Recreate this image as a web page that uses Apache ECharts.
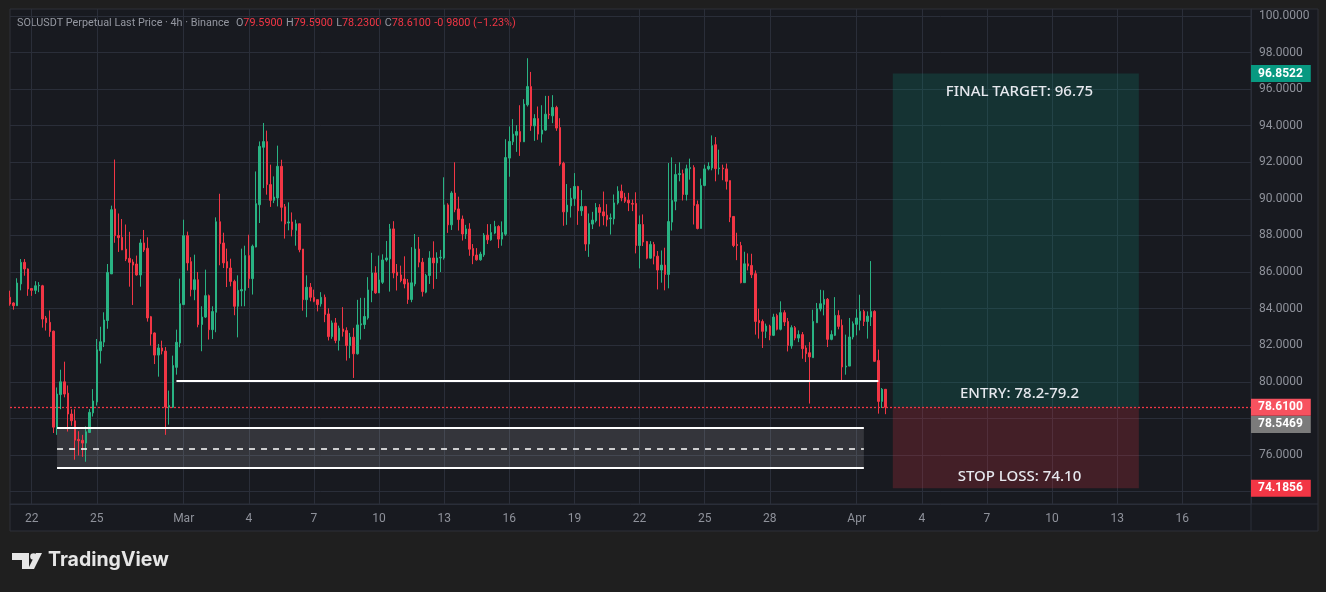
<!DOCTYPE html>
<html>
<head>
<meta charset="utf-8">
<title>SOLUSDT Perpetual 4h</title>
<script src="https://cdn.jsdelivr.net/npm/echarts@6/dist/echarts.min.js"></script>
<style>
  html, body { margin: 0; padding: 0; background: #1f1f1f; }
  #chart { width: 1326px; height: 592px; }
</style>
</head>
<body>
<div id="chart"></div>
<script>
// 4h candles, [open, high, low, close], first one is Feb 21 00:00
var ohlc = [
  [84.62,84.98,84.16,84.25],[84.31,84.35,83.94,84.16],[84.16,85.66,84.16,85.40],[85.35,86.71,85.00,86.53],[86.53,86.71,85.80,86.17],[86.17,86.20,84.70,85.07],
  [85.10,85.10,84.70,85.00],[85.00,85.50,84.80,85.25],[85.25,85.45,84.90,85.28],[85.25,85.30,82.96,83.43],[83.49,83.60,82.80,83.23],[83.25,83.90,82.46,82.74],
  [82.77,82.80,77.20,77.52],[77.50,79.69,77.10,79.33],[79.30,80.66,78.50,80.00],[80.00,81.10,79.15,79.33],[79.38,79.80,77.28,78.24],[78.24,78.50,77.60,77.87],
  [77.87,78.50,75.74,76.81],[76.85,77.30,75.97,76.78],[76.80,77.10,75.90,76.65],[76.65,77.56,75.63,77.27],[77.23,78.51,77.20,78.33],[78.30,79.60,78.10,78.95],
  [78.90,82.34,78.70,81.75],[81.70,83.01,81.00,82.19],[82.17,83.80,81.90,83.38],[83.35,86.44,82.90,85.98],[85.90,89.63,85.90,89.41],[89.45,92.15,87.60,87.99],
  [88.00,89.20,87.10,87.88],[87.90,88.90,87.20,87.21],[87.25,88.60,86.60,86.71],[86.75,88.20,85.20,86.53],[86.55,86.70,84.20,86.38],[86.44,86.90,85.80,85.84],
  [85.84,87.80,85.20,87.59],[87.59,88.30,87.10,87.21],[87.30,87.90,83.29,83.49],[83.56,83.60,81.98,82.61],[82.67,82.70,80.97,81.46],[81.46,82.07,80.28,81.85],
  [81.85,82.25,81.50,81.68],[81.68,81.90,77.10,78.62],[78.61,79.52,77.66,78.70],[78.61,81.43,78.57,80.89],[80.79,82.85,80.39,82.16],[82.12,85.64,81.89,84.27],
  // Mar 1
  [84.22,88.86,84.22,87.99],[87.99,88.21,86.08,86.50],[86.57,86.81,84.67,85.04],[85.04,86.95,84.46,85.58],[85.58,86.00,82.98,83.13],[83.13,84.13,81.67,83.54],
  [83.54,86.13,83.49,84.71],[84.71,84.77,82.31,82.85],[82.85,84.13,82.34,83.84],[83.80,88.99,82.71,88.75],[88.75,90.28,86.37,87.55],[87.59,88.15,86.22,86.50],
  [86.57,87.28,85.18,86.22],[86.22,86.73,85.22,85.49],[85.49,85.58,83.64,84.13],[84.13,85.82,82.43,85.00],[84.97,87.28,84.13,85.04],[85.00,87.44,84.13,86.90],
  [86.90,88.04,85.13,85.64],[85.64,87.50,84.77,87.41],[87.37,91.50,87.35,89.74],[89.68,93.14,88.68,92.87],[92.82,94.15,90.59,93.13],[93.13,93.73,90.23,90.78],
  [90.78,91.87,89.56,89.92],[89.92,91.23,89.77,90.10],[90.05,92.91,89.59,91.78],[91.78,92.14,88.77,89.54],[89.57,89.72,87.83,88.63],[88.68,89.81,88.28,88.74],
  [88.74,89.26,87.95,88.32],[88.28,88.86,87.44,88.64],[88.64,88.64,87.08,87.22],[87.26,87.26,83.89,84.49],[84.49,85.82,83.53,85.17],[85.17,85.40,84.40,84.62],
  [84.62,85.04,84.35,84.40],[84.49,84.49,83.85,84.22],[84.26,84.90,84.11,84.62],[84.62,84.77,83.26,83.68],[83.71,84.02,82.26,82.47],[82.47,83.35,82.35,83.22],
  [83.22,83.49,82.11,82.26],[82.26,83.07,81.71,82.93],[82.89,84.08,82.47,82.75],[82.80,82.98,81.16,81.98],[81.98,82.67,81.29,82.44],[82.44,82.95,80.21,81.53],
  [81.53,84.48,81.49,83.11],[83.11,84.59,82.31,83.17],[83.13,84.59,82.89,83.57],[83.49,85.72,83.40,85.02],[84.99,87.05,84.35,85.95],[85.95,86.32,84.81,84.86],
  [84.86,86.90,84.86,85.57],[85.44,86.97,85.35,86.66],[86.66,87.70,86.57,86.77],[86.72,88.63,84.93,88.36],[88.36,88.78,85.66,85.95],[85.99,86.44,84.99,85.81],
  [85.84,86.35,85.44,85.53],[85.62,86.86,85.11,85.35],[85.41,85.62,84.26,84.50],[84.50,87.36,84.35,85.41],[85.35,88.08,85.22,87.26],[87.26,87.92,86.26,86.54],
  [86.54,86.77,84.66,84.93],[84.90,85.90,84.84,85.81],[85.81,87.14,85.35,86.77],[86.77,87.68,85.08,86.50],[86.50,87.08,85.62,86.77],[86.77,87.21,86.00,86.81],
  [86.77,91.18,86.68,89.67],[89.67,89.76,88.14,88.58],[88.58,90.42,88.30,90.32],[90.32,92.00,89.27,89.41],[89.45,90.12,88.27,88.87],[88.90,89.09,87.72,88.08],
  [88.08,88.58,87.81,88.36],[88.35,88.67,86.89,87.25],[87.29,87.53,86.43,86.89],[86.93,87.31,86.62,86.67],[86.67,87.11,86.62,86.98],[86.94,88.13,86.83,88.02],
  [88.02,88.62,87.53,87.76],[87.76,88.62,87.71,88.16],[88.13,88.80,88.07,88.49],[88.49,88.56,87.31,87.80],[87.80,88.77,87.44,88.16],[88.07,93.26,87.98,92.26],
  [92.23,93.96,91.21,93.14],[93.12,94.36,92.94,93.54],[93.48,94.03,92.57,93.68],[93.68,95.12,92.35,93.12],[93.12,95.45,93.12,95.18],[95.14,97.69,95.05,96.14],
  [96.14,96.94,93.72,93.99],[93.99,94.63,93.17,94.39],[94.39,95.05,93.23,93.54],[93.54,95.12,93.08,93.76],[93.76,95.63,93.72,94.63],[94.63,95.63,94.36,94.59],
  [94.54,95.67,94.14,95.00],[95.00,95.09,93.72,93.87],[93.90,94.41,91.81,91.90],[91.95,92.03,88.53,89.29],[89.29,90.81,88.58,89.66],[89.62,90.59,88.98,90.04],
  [90.02,91.41,89.62,90.68],[90.68,90.71,88.58,89.35],[89.35,90.48,89.07,89.58],[89.58,89.62,87.16,87.53],[87.53,89.20,86.83,88.67],[88.62,89.29,88.35,88.84],
  [88.80,89.77,88.71,89.53],[89.53,89.71,88.49,89.26],[89.29,90.40,88.56,89.07],[89.11,89.71,88.49,88.86],[88.91,89.20,88.05,88.96],[88.91,90.24,88.60,89.78],
  [89.78,90.69,89.69,90.42],[90.42,90.78,89.87,90.05],[90.09,90.33,89.78,89.87],[89.93,90.33,89.33,89.78],[89.75,89.96,89.33,89.71],[89.75,90.36,87.02,87.45],
  [87.45,89.09,86.20,88.60],[88.60,89.15,87.42,87.64],[87.67,87.70,86.70,86.76],[86.76,87.69,86.73,87.51],[87.51,87.65,86.42,86.87],[86.87,87.15,85.05,86.11],
  [86.11,87.18,85.42,86.38],[86.38,87.33,85.00,85.87],[85.87,91.96,85.11,88.76],[88.73,92.27,88.27,89.91],[89.87,91.91,89.38,91.33],[91.33,92.00,90.96,91.38],
  [91.38,91.60,89.91,90.24],[90.24,91.87,89.91,91.65],[91.65,92.20,91.05,91.71],[91.71,91.84,88.60,89.64],[89.69,89.91,88.33,88.38],[88.38,91.11,88.38,90.73],
  [90.73,91.87,90.69,91.64],[91.64,92.00,91.56,91.78],[91.69,93.47,91.56,92.91],[92.96,93.38,90.96,91.65],[91.65,92.69,91.33,91.69],[91.69,91.87,91.02,91.64],
  [91.64,91.93,90.51,90.96],[91.00,91.00,88.73,89.00],[89.04,89.04,87.36,87.45],[87.51,88.15,86.65,87.45],[87.45,87.65,85.38,85.42],[85.42,87.11,85.42,86.45],
  [86.45,87.02,86.09,86.33],[86.36,87.00,85.67,85.85],[85.91,86.09,82.58,83.30],[83.36,84.00,82.36,83.23],[83.30,83.41,81.85,82.76],[82.76,83.18,82.39,83.05],
  [83.05,83.12,82.27,82.54],[82.54,83.72,82.50,83.54],[83.63,83.72,82.81,82.87],[82.87,84.40,82.81,83.78],[83.78,83.91,83.05,83.27],[83.30,83.49,81.66,81.99],
  [81.96,83.09,81.81,82.96],[82.96,83.05,82.27,82.39],[82.39,82.81,82.17,82.58],[82.58,82.72,81.26,81.81],[81.85,81.99,81.08,81.54],[81.59,82.17,78.81,81.36],
  [81.32,83.94,81.32,83.30],[83.23,84.31,83.23,84.00],[83.98,85.03,83.85,84.27],[84.23,85.00,83.63,84.51],[84.51,84.58,81.90,82.32],[82.32,82.81,82.27,82.58],
  [82.54,84.63,82.50,83.63],[83.63,83.91,82.87,83.03],[83.09,83.41,79.99,80.81],[80.81,82.58,80.39,80.86],[80.86,83.49,80.86,82.45],[82.45,83.30,82.32,83.18],
  // Apr 1
  [83.14,83.97,82.54,83.49],[83.36,84.76,82.81,83.85],[83.85,83.94,83.05,83.30],[83.30,83.85,82.36,83.59],[83.54,86.60,83.05,83.85],[83.85,83.91,81.08,81.12],
  [81.17,81.76,78.26,78.93],[78.93,79.66,78.57,79.59],[79.59,79.59,78.23,78.61]
];

var tickDays = ['02-22','02-25','03-01','03-04','03-07','03-10','03-13','03-16','03-19',
                '03-22','03-25','03-28','04-01','04-04','04-07','04-10','04-13','04-16'];
var tickLabels = ['22','25','Mar','4','7','10','13','16','19','22','25','28','Apr','4','7','10','13','16'];
var priceLabels = [76, 80, 82, 84, 86, 88, 90, 92, 94, 96, 98, 100];
var priceGrid = [74, 76, 78, 80, 82, 84, 86, 88, 90, 92, 94, 96, 98, 100];

// drawn levels
var targetPrice = 96.8522;
var lastPrice = 78.61;
var stopPrice = 74.1856;
var greyTag = 78.5469;
var supportLevel = 80.05;
var zone = [75.29, 76.33, 77.47];
var supportSpan = ['02-28 16:00', '04-02 00:00'];
var zoneSpan = ['02-23 04:00', '04-01 08:00'];
var boxSpan = ['04-02 16:00', '04-14 00:00'];
var boxTextAt = '04-08 12:00';
var boxTexts = [['FINAL TARGET: 96.75', 95.84], ['ENTRY: 78.2-79.2', 79.33], ['STOP LOSS: 74.10', 74.81]];

var UP = '#29b383', DOWN = '#f23645', GRID = '#2a2e39', TXT = '#8f929b';
var FONT = 'Roboto, "Noto Sans", sans-serif';

function pad(n) { return n < 10 ? '0' + n : '' + n; }

// 4h slots from Feb 21 up to the right edge of the pane
var categories = [];
var t0 = Date.UTC(2026, 1, 21);
for (var k = 0; k < 344; k++) {
  var d = new Date(t0 + k * 4 * 3600 * 1000);
  categories.push(pad(d.getUTCMonth() + 1) + '-' + pad(d.getUTCDate()) + ' ' + pad(d.getUTCHours()) + ':00');
}
function isTick(v) {
  return v.slice(6) === '00:00' && tickDays.indexOf(v.slice(0, 5)) >= 0;
}

var last = ohlc[ohlc.length - 1];
var prevClose = ohlc[ohlc.length - 2][3];
var chg = last[3] - prevClose;
var legendText = '{g|SOLUSDT Perpetual Last Price · 4h · Binance}  ' +
  '{g|O}{r|' + last[0].toFixed(4) + '} {g|H}{r|' + last[1].toFixed(4) + '} ' +
  '{g|L}{r|' + last[2].toFixed(4) + '} {g|C}{r|' + last[3].toFixed(4) + '} ' +
  '{r|' + chg.toFixed(4) + ' (' + (chg / prevClose * 100).toFixed(2).replace('-', '−') + '%)}';

// price tag on the right scale
function tag(price, bg, extra) {
  var l = {
    show: true, position: 'end', distance: 0,
    formatter: price.toFixed(4),
    backgroundColor: bg, color: '#ffffff', fontWeight: 'bold',
    fontSize: 12, fontFamily: FONT, padding: [3, 8, 2, 7]
  };
  return Object.assign(l, extra || {});
}
var hidden = { color: 'rgba(0,0,0,0)', width: 0 };

var chart = echarts.init(document.getElementById('chart'));

chart.setOption({
  backgroundColor: '#181a20',
  animation: false,
  textStyle: { fontFamily: FONT },
  grid: { left: 10, top: 9, right: 75, bottom: 88 },
  xAxis: {
    type: 'category',
    data: categories,
    boundaryGap: false,
    axisLine: { lineStyle: { color: GRID } },
    axisTick: { show: false },
    axisLabel: {
      interval: function (i, v) { return isTick(v); },
      formatter: function (v) { return tickLabels[tickDays.indexOf(v.slice(0, 5))]; },
      color: TXT, fontSize: 12, margin: 9
    },
    splitLine: {
      show: true,
      interval: function (i, v) { return isTick(v); },
      lineStyle: { color: GRID }
    }
  },
  yAxis: {
    type: 'value',
    position: 'right',
    min: 73.32,
    max: 100.38,
    axisLine: { show: true, lineStyle: { color: GRID } },
    axisTick: { show: false, customValues: priceGrid },
    axisLabel: {
      customValues: priceLabels,
      formatter: function (v) { return v.toFixed(4); },
      color: TXT, fontSize: 12, margin: 8
    },
    splitLine: { show: true, lineStyle: { color: GRID } }
  },
  series: [{
    type: 'candlestick',
    data: ohlc.map(function (c) { return [c[0], c[3], c[2], c[1]]; }),
    barWidth: 2,
    itemStyle: {
      color: UP, color0: DOWN,
      borderColor: UP, borderColor0: DOWN, borderColorDoji: UP,
      borderWidth: 1
    },
    markArea: {
      silent: true,
      data: [
        [{ xAxis: boxSpan[0], yAxis: targetPrice, itemStyle: { color: 'rgba(8,153,129,0.2)' } },
         { xAxis: boxSpan[1], yAxis: lastPrice }],
        [{ xAxis: boxSpan[0], yAxis: lastPrice, itemStyle: { color: 'rgba(242,54,69,0.2)' } },
         { xAxis: boxSpan[1], yAxis: stopPrice }],
        [{ xAxis: zoneSpan[0], yAxis: zone[2], itemStyle: { color: 'rgba(255,255,255,0.12)' } },
         { xAxis: zoneSpan[1], yAxis: zone[0] }]
      ]
    },
    markLine: {
      silent: true,
      precision: 4,
      symbol: ['none', 'none'],
      label: { show: false },
      data: [
        [{ coord: [supportSpan[0], supportLevel], lineStyle: { color: '#ffffff', width: 2, type: 'solid' } },
         { coord: [supportSpan[1], supportLevel] }],
        [{ coord: [zoneSpan[0], zone[2]], lineStyle: { color: '#ffffff', width: 2, type: 'solid' } },
         { coord: [zoneSpan[1], zone[2]] }],
        [{ coord: [zoneSpan[0], zone[1]], lineStyle: { color: '#ffffff', width: 1.5, type: [6, 6] } },
         { coord: [zoneSpan[1], zone[1]] }],
        [{ coord: [zoneSpan[0], zone[0]], lineStyle: { color: '#ffffff', width: 2, type: 'solid' } },
         { coord: [zoneSpan[1], zone[0]] }],
        { yAxis: lastPrice, lineStyle: { color: '#f23645', width: 1.3, type: [2, 2] }, label: tag(lastPrice, '#f7525f') },
        { yAxis: targetPrice, lineStyle: hidden, label: tag(targetPrice, '#089981') },
        { yAxis: greyTag, lineStyle: hidden, label: tag(greyTag, '#7b7b7b', { offset: [0, 16] }) },
        { yAxis: stopPrice, lineStyle: hidden, label: tag(stopPrice, DOWN) }
      ]
    },
    markPoint: {
      silent: true,
      symbol: 'rect',
      symbolSize: 1,
      itemStyle: { color: 'rgba(0,0,0,0)' },
      label: { show: true, position: 'inside', color: '#e6e8ee', fontSize: 15, fontWeight: 500, fontFamily: '"Noto Sans", sans-serif' },
      data: boxTexts.map(function (t) {
        return { coord: [boxTextAt, t[1]], label: { formatter: t[0] } };
      })
    }
  }],
  graphic: [
    // outer page around the pane
    { type: 'rect', shape: { x: 0, y: 0, width: 1326, height: 9 }, style: { fill: '#1f1f1f' }, silent: true },
    { type: 'rect', shape: { x: 0, y: 0, width: 10, height: 592 }, style: { fill: '#1f1f1f' }, silent: true },
    { type: 'rect', shape: { x: 1318, y: 0, width: 8, height: 592 }, style: { fill: '#1f1f1f' }, silent: true },
    { type: 'rect', shape: { x: 0, y: 531, width: 1326, height: 61 }, style: { fill: '#1f1f1f' }, silent: true },
    { type: 'rect', shape: { x: 10, y: 9, width: 1308, height: 522 }, style: { fill: null, stroke: '#2e3039', lineWidth: 1 }, silent: true },
    { type: 'line', shape: { x1: 1251, y1: 9, x2: 1251, y2: 531 }, style: { stroke: GRID, lineWidth: 1 }, silent: true },
    { type: 'line', shape: { x1: 10, y1: 504, x2: 1318, y2: 504 }, style: { stroke: GRID, lineWidth: 1 }, silent: true },
    {
      type: 'text', left: 17, top: 17, silent: true,
      style: {
        text: legendText,
        rich: {
          g: { fill: '#9598a1', fontSize: 10.8, fontFamily: FONT },
          r: { fill: '#f23645', fontSize: 10.8, fontFamily: FONT }
        }
      }
    },
    // TradingView logo
    { type: 'polygon', shape: { points: [[12, 553], [29, 553], [29, 569], [22, 569], [22, 560], [12, 560]] }, style: { fill: '#e6e6e6' }, silent: true },
    { type: 'circle', shape: { cx: 33.5, cy: 556.5, r: 3.3 }, style: { fill: '#e6e6e6' }, silent: true },
    { type: 'polygon', shape: { points: [[36, 553], [42, 553], [34, 569], [28, 569]] }, style: { fill: '#e6e6e6' }, silent: true },
    {
      type: 'text', left: 48, top: 550, silent: true,
      style: { text: 'TradingView', fill: '#e6e6e6', fontSize: 19.5, fontWeight: 'bold', fontFamily: 'Inter, "Noto Sans", sans-serif' }
    }
  ]
});
</script>
</body>
</html>
